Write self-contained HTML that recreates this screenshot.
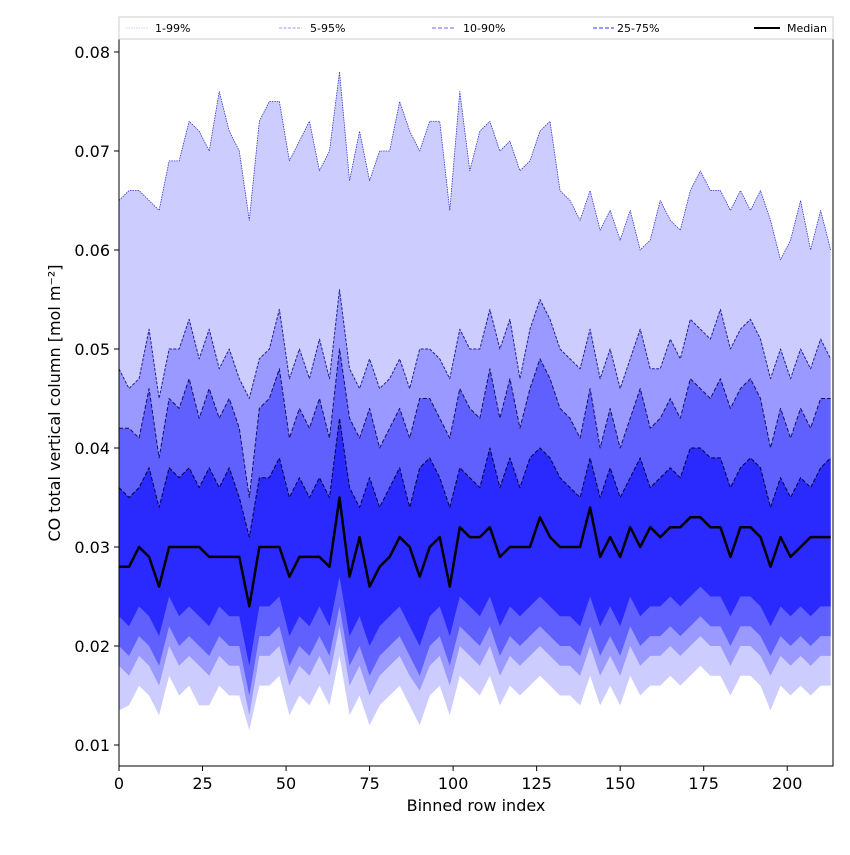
<!DOCTYPE html>
<html><head><meta charset="utf-8"><style>
html,body{margin:0;padding:0;background:#fff;}
svg text{font-family:"DejaVu Sans","Liberation Sans",sans-serif;}
</style></head><body>
<svg id="chart" width="850" height="850" xmlns="http://www.w3.org/2000/svg">
<rect width="850" height="850" fill="#fff"/>
<g id="bands"></g>
<g id="lines"></g>
<rect x="119" y="39" width="714" height="727" fill="none" stroke="#000" stroke-width="1"/>
<g id="xaxis"></g>
<g id="yaxis"></g>
<text x="476" y="811" font-size="16" text-anchor="middle">Binned row index</text>
<text transform="translate(60,403) rotate(-90)" font-size="16" text-anchor="middle">CO total vertical column [mol m⁻²]</text>
<g>
<rect x="119" y="17" width="714" height="22" fill="#fff" stroke="#ccc" stroke-width="1"/>
<g><line x1="126" y1="28" x2="148" y2="28" stroke="#ccccff" stroke-width="1" stroke-dasharray="1.5,1"/><text x="155" y="32" font-size="11">1-99%</text></g>
<g><line x1="279" y1="28" x2="302" y2="28" stroke="#9999ff" stroke-width="1" stroke-dasharray="3,1.5"/><text x="310" y="32" font-size="11">5-95%</text></g>
<g><line x1="432" y1="28" x2="455" y2="28" stroke="#6666ff" stroke-width="1" stroke-dasharray="4,2"/><text x="463" y="32" font-size="11">10-90%</text></g>
<g><line x1="593" y1="28" x2="614" y2="28" stroke="#3333ff" stroke-width="1" stroke-dasharray="4,2"/><text x="617" y="32" font-size="11">25-75%</text></g>
<g><line x1="754" y1="28" x2="780" y2="28" stroke="#000" stroke-width="2"/><text x="787" y="32" font-size="11">Median</text></g>
</g>
</svg>
<script>
const idx = [0,3,6,9,12,15,18,21,24,27,30,33,36,39,42,45,48,51,54,57,60,63,66,69,72,75,78,81,84,87,90,93,96,99,102,105,108,111,114,117,120,123,126,129,132,135,138,141,144,147,150,153,156,159,162,165,168,171,174,177,180,183,186,189,192,195,198,201,204,207,210,213];
const p99 = [0.065,0.066,0.066,0.065,0.064,0.069,0.069,0.073,0.072,0.070,0.076,0.072,0.070,0.063,0.073,0.075,0.075,0.069,0.071,0.073,0.068,0.070,0.078,0.067,0.072,0.067,0.070,0.070,0.075,0.072,0.070,0.073,0.073,0.064,0.076,0.068,0.072,0.073,0.070,0.071,0.068,0.069,0.072,0.073,0.066,0.065,0.063,0.066,0.062,0.064,0.061,0.064,0.060,0.061,0.065,0.063,0.062,0.066,0.068,0.066,0.066,0.064,0.066,0.064,0.066,0.063,0.059,0.061,0.065,0.060,0.064,0.060];
const p95 = [0.048,0.046,0.047,0.052,0.045,0.050,0.050,0.053,0.049,0.052,0.048,0.050,0.047,0.045,0.049,0.050,0.054,0.047,0.050,0.047,0.051,0.047,0.056,0.048,0.046,0.049,0.046,0.047,0.049,0.046,0.050,0.050,0.049,0.047,0.052,0.050,0.050,0.054,0.050,0.053,0.047,0.052,0.055,0.053,0.050,0.049,0.048,0.052,0.047,0.050,0.046,0.049,0.052,0.048,0.048,0.051,0.049,0.053,0.052,0.051,0.054,0.050,0.052,0.053,0.051,0.047,0.050,0.047,0.050,0.048,0.051,0.049];
const p90 = [0.042,0.042,0.041,0.046,0.039,0.045,0.044,0.047,0.043,0.046,0.043,0.045,0.042,0.035,0.044,0.045,0.048,0.041,0.044,0.042,0.045,0.041,0.050,0.043,0.041,0.044,0.040,0.042,0.044,0.041,0.045,0.045,0.043,0.041,0.046,0.044,0.043,0.048,0.043,0.047,0.042,0.046,0.049,0.047,0.044,0.043,0.041,0.046,0.040,0.044,0.040,0.043,0.046,0.042,0.043,0.045,0.043,0.047,0.046,0.045,0.047,0.044,0.046,0.047,0.045,0.040,0.044,0.041,0.044,0.042,0.045,0.045];
const p75 = [0.036,0.035,0.036,0.038,0.034,0.038,0.037,0.038,0.036,0.038,0.036,0.038,0.035,0.031,0.037,0.037,0.039,0.035,0.037,0.035,0.037,0.035,0.043,0.036,0.034,0.037,0.034,0.036,0.038,0.034,0.038,0.039,0.037,0.034,0.038,0.037,0.036,0.040,0.036,0.039,0.036,0.039,0.040,0.039,0.037,0.036,0.035,0.039,0.035,0.038,0.035,0.037,0.039,0.036,0.037,0.038,0.037,0.040,0.040,0.039,0.039,0.036,0.038,0.039,0.038,0.034,0.037,0.035,0.037,0.036,0.038,0.039];
const median = [0.028,0.028,0.030,0.029,0.026,0.030,0.030,0.030,0.030,0.029,0.029,0.029,0.029,0.024,0.030,0.030,0.030,0.027,0.029,0.029,0.029,0.028,0.035,0.027,0.031,0.026,0.028,0.029,0.031,0.030,0.027,0.030,0.031,0.026,0.032,0.031,0.031,0.032,0.029,0.030,0.030,0.030,0.033,0.031,0.030,0.030,0.030,0.034,0.029,0.031,0.029,0.032,0.030,0.032,0.031,0.032,0.032,0.033,0.033,0.032,0.032,0.029,0.032,0.032,0.031,0.028,0.031,0.029,0.030,0.031,0.031,0.031];
const p25 = [0.023,0.022,0.024,0.023,0.021,0.025,0.023,0.024,0.023,0.022,0.024,0.023,0.023,0.018,0.024,0.024,0.025,0.021,0.023,0.022,0.024,0.022,0.027,0.021,0.023,0.020,0.022,0.023,0.024,0.022,0.020,0.023,0.024,0.021,0.025,0.024,0.023,0.025,0.022,0.024,0.023,0.024,0.025,0.024,0.023,0.023,0.022,0.025,0.022,0.024,0.022,0.025,0.023,0.024,0.024,0.025,0.024,0.025,0.026,0.025,0.025,0.023,0.025,0.025,0.024,0.022,0.024,0.023,0.024,0.023,0.024,0.024];
const p10 = [0.020,0.019,0.021,0.020,0.018,0.022,0.020,0.021,0.020,0.019,0.021,0.020,0.020,0.015,0.021,0.021,0.022,0.018,0.020,0.019,0.021,0.019,0.024,0.018,0.020,0.017,0.019,0.020,0.021,0.019,0.017,0.020,0.021,0.018,0.022,0.021,0.020,0.022,0.019,0.021,0.020,0.021,0.022,0.021,0.020,0.020,0.019,0.022,0.019,0.021,0.019,0.022,0.020,0.021,0.021,0.022,0.021,0.022,0.023,0.022,0.022,0.020,0.022,0.022,0.021,0.019,0.021,0.020,0.021,0.020,0.021,0.021];
const p5 = [0.018,0.017,0.019,0.018,0.016,0.020,0.018,0.019,0.018,0.017,0.019,0.018,0.018,0.013,0.019,0.019,0.020,0.016,0.018,0.017,0.019,0.017,0.022,0.016,0.018,0.015,0.017,0.018,0.019,0.017,0.0155,0.018,0.019,0.016,0.020,0.019,0.018,0.020,0.017,0.019,0.018,0.019,0.020,0.019,0.018,0.018,0.017,0.020,0.017,0.019,0.017,0.020,0.018,0.019,0.019,0.020,0.019,0.020,0.021,0.020,0.020,0.018,0.020,0.020,0.019,0.017,0.019,0.018,0.019,0.018,0.019,0.019];
const p1 = [0.0135,0.014,0.016,0.015,0.013,0.017,0.015,0.016,0.014,0.014,0.016,0.015,0.015,0.0115,0.016,0.016,0.017,0.013,0.015,0.014,0.016,0.014,0.019,0.013,0.015,0.012,0.014,0.015,0.016,0.014,0.012,0.015,0.016,0.013,0.017,0.016,0.015,0.017,0.014,0.016,0.015,0.016,0.017,0.016,0.015,0.015,0.014,0.017,0.014,0.016,0.014,0.017,0.015,0.016,0.016,0.017,0.016,0.017,0.018,0.017,0.017,0.015,0.017,0.017,0.016,0.0135,0.016,0.015,0.016,0.015,0.016,0.016];
const xTicks = [0,25,50,75,100,125,150,175,200];
const yTicks = [0.01,0.02,0.03,0.04,0.05,0.06,0.07,0.08];

const NS = "http://www.w3.org/2000/svg";
const X0 = 119, X1 = 833, XMIN = 0, XMAX = 213.7;
const Y0 = 766, Y1 = 39, YMIN = 0.00788, YMAX = 0.08131;
function sx(v){ return X0 + (v - XMIN) / (XMAX - XMIN) * (X1 - X0); }
function sy(v){ return Y0 - (v - YMIN) / (YMAX - YMIN) * (Y0 - Y1); }
function mk(tag, attrs, parent){ const e = document.createElementNS(NS, tag); for (const k in attrs) e.setAttribute(k, attrs[k]); parent.appendChild(e); return e; }
function pts(arr){ return idx.map((d,i)=> sx(d).toFixed(2)+","+sy(arr[i]).toFixed(2)); }

const bands = document.getElementById('bands');
const bandDefs = [[p1,p99,'#ccccff','band-1-99'],[p5,p95,'#9999ff','band-5-95'],[p10,p90,'#6060ff','band-10-90'],[p25,p75,'#2a2aff','band-25-75']];
bandDefs.forEach(b => {
  const poly = mk('polygon', {points: pts(b[1]).concat(pts(b[0]).reverse()).join(' '), fill: b[2], stroke: 'none'}, bands);
  
  
});
const lines = document.getElementById('lines');
const lineDefs = [[p99,'#3333cc',0.8,'1.5,1','line-p99'],[p95,'#222299',1,'3,1.5','line-p95'],[p90,'#111166',1,'4,2','line-p90'],[p75,'#000044',1,'4,2','line-p75'],[median,'#000',2.5,'','line-median']];
lineDefs.forEach(l => {
  const pl = mk('polyline', {points: pts(l[0]).join(' '), fill: 'none', stroke: l[1], 'stroke-width': l[2], 'stroke-dasharray': l[3] || 'none', 'stroke-linejoin': 'round'}, lines);
  
  
});
const xa = document.getElementById('xaxis');
xTicks.forEach(t => {
  const x = sx(t);
  mk('line', {x1: x, x2: x, y1: 766, y2: 771, stroke: '#000'}, xa);
  const tx = mk('text', {x: x, y: 789, 'font-size': 16, 'text-anchor': 'middle'}, xa);
  tx.textContent = String(t);
  
  
});
const ya = document.getElementById('yaxis');
yTicks.forEach(t => {
  const y = sy(t);
  mk('line', {x1: 114, x2: 119, y1: y, y2: y, stroke: '#000'}, ya);
  const tx = mk('text', {x: 110, y: y + 6, 'font-size': 16, 'text-anchor': 'end'}, ya);
  tx.textContent = t.toFixed(2);
  
  
});
</script>
</body></html>
